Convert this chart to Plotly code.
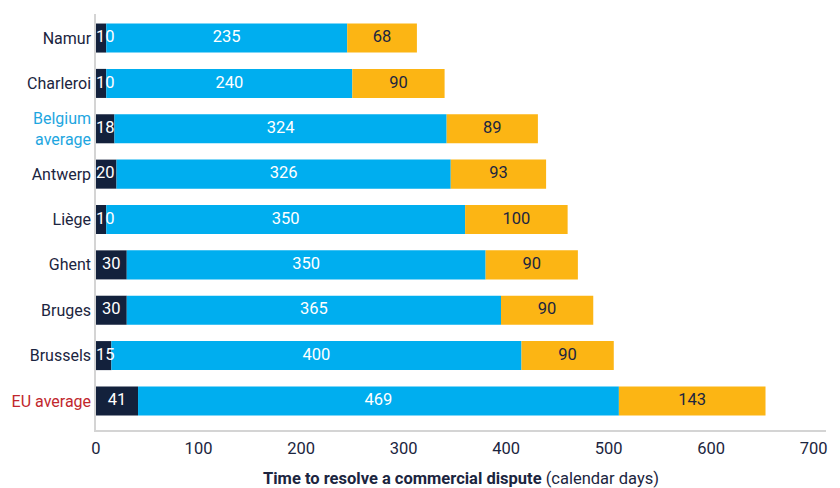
import plotly.graph_objects as go

categories = ["Namur", "Charleroi", "Belgium average", "Antwerp", "Liège",
              "Ghent", "Bruges", "Brussels", "EU average"]
filing = [10, 10, 18, 20, 10, 30, 30, 15, 41]
trial = [235, 240, 324, 326, 350, 350, 365, 400, 469]
enforcement = [68, 90, 89, 93, 100, 90, 90, 90, 143]
tick_labels = ["Namur", "Charleroi",
               "<span style='color:#1ea6df'>Belgium<br>average</span>",
               "Antwerp", "Liège", "Ghent", "Bruges", "Brussels",
               "<span style='color:#c1272d'>EU average</span>"]
x_ticks = [0, 100, 200, 300, 400, 500, 600, 700]

NAVY = "#13213c"
BLUE = "#00aeef"
YELLOW = "#fcb514"
TEXT = "#1b2540"
FONT = "Roboto, sans-serif"
FS = 16.5

fig = go.Figure()
bases = [0] * len(categories)
for vals, color in [(filing, NAVY), (trial, BLUE), (enforcement, YELLOW)]:
    fig.add_trace(go.Bar(
        y=categories, x=vals, base=bases[:], orientation="h",
        marker=dict(color=color, line=dict(width=0)), width=0.64,
        showlegend=False, hoverinfo="skip"))
    bases = [b + v for b, v in zip(bases, vals)]

# filing labels (white); small ones anchored at axis start
small = [v < 22 for v in filing]
fig.add_trace(go.Scatter(
    y=[c for c, s in zip(categories, small) if s],
    x=[0 for s in small if s],
    text=[str(v) for v, s in zip(filing, small) if s],
    mode="text", textposition="middle right",
    textfont=dict(color="white", size=FS, family=FONT),
    showlegend=False, hoverinfo="skip", cliponaxis=False))
fig.add_trace(go.Scatter(
    y=[c for c, s in zip(categories, small) if not s],
    x=[v / 2 for v, s in zip(filing, small) if not s],
    text=[str(v) for v, s in zip(filing, small) if not s],
    mode="text", textposition="middle center",
    textfont=dict(color="white", size=FS, family=FONT),
    showlegend=False, hoverinfo="skip", cliponaxis=False))
fig.add_trace(go.Scatter(
    y=categories, x=[f + t / 2 for f, t in zip(filing, trial)],
    text=[str(v) for v in trial], mode="text", textposition="middle center",
    textfont=dict(color="white", size=FS, family=FONT),
    showlegend=False, hoverinfo="skip"))
fig.add_trace(go.Scatter(
    y=categories, x=[f + t + e / 2 for f, t, e in zip(filing, trial, enforcement)],
    text=[str(v) for v in enforcement], mode="text", textposition="middle center",
    textfont=dict(color=TEXT, size=FS, family=FONT),
    showlegend=False, hoverinfo="skip"))

fig.update_layout(
    width=840, height=488,
    margin=dict(l=96, r=14, t=14, b=58),
    paper_bgcolor="white", plot_bgcolor="white",
    barmode="overlay",
    font=dict(family=FONT, color=TEXT, size=FS),
    xaxis=dict(
        range=[0, 712], tickvals=x_ticks, ticktext=[str(v) for v in x_ticks],
        showgrid=False, zeroline=False, showline=True, linecolor="#d4d4d4",
        linewidth=1.5, ticks="", tickfont=dict(size=FS, color=TEXT),
        automargin=False, ticklabelstandoff=2,
        title=dict(text="<b>Time to resolve a commercial dispute</b> (calendar days)",
                   font=dict(size=16.5, color=TEXT), standoff=16)),
    yaxis=dict(
        categoryorder="array", categoryarray=categories,
        range=[8.64, -0.53], tickvals=categories, ticktext=tick_labels,
        showgrid=False, zeroline=False, showline=True, linecolor="#d4d4d4",
        linewidth=1.5, ticks="", ticklabelstandoff=0, automargin=False,
        tickfont=dict(size=16, color=TEXT)),
)

fig.write_html("out.html",
               config={"displayModeBar": False},
               post_script="document.body.style.margin='0';"
                           "document.body.style.overflow='hidden';")
